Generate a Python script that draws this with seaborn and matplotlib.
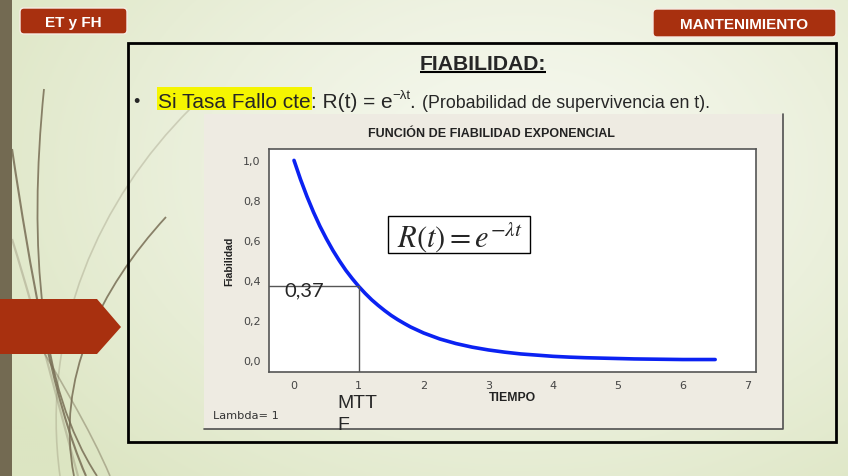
import numpy as np
import matplotlib
matplotlib.use("Agg")
import matplotlib.pyplot as plt
import seaborn as sns
from matplotlib.patches import Rectangle, Polygon, FancyBboxPatch, PathPatch
from matplotlib.path import Path

# Reliability R(t) for a constant failure rate (lambda = 1)
tiempo = [0.0, 0.1, 0.2, 0.3, 0.4, 0.5, 0.6, 0.7, 0.8, 0.9, 1.0,
          1.1, 1.2, 1.3, 1.4, 1.5, 1.6, 1.7, 1.8, 1.9, 2.0,
          2.25, 2.5, 2.75, 3.0, 3.25, 3.5, 3.75, 4.0, 4.25, 4.5, 4.75,
          5.0, 5.25, 5.5, 5.75, 6.0, 6.25, 6.5]
fiabilidad = [1.000, 0.905, 0.819, 0.741, 0.670, 0.607, 0.549, 0.497, 0.449, 0.407, 0.368,
              0.333, 0.301, 0.273, 0.247, 0.223, 0.202, 0.183, 0.165, 0.150, 0.135,
              0.105, 0.082, 0.064, 0.050, 0.039, 0.030, 0.024, 0.018, 0.014, 0.011, 0.009,
              0.007, 0.005, 0.004, 0.003, 0.002, 0.002, 0.002]
mttf = 1.0
r_mttf = 0.37
x_ticks = [0, 1, 2, 3, 4, 5, 6, 7]
y_ticks = [0.0, 0.2, 0.4, 0.6, 0.8, 1.0]
y_tick_labels = ["0,0", "0,2", "0,4", "0,6", "0,8", "1,0"]

sns.set_style("white")
plt.rcParams["font.family"] = ["DejaVu Sans"]
plt.rcParams["mathtext.fontset"] = "stix"

SANS = ["Liberation Sans"]
RED = "#a8300f"
W, H = 848, 477

fig = plt.figure(figsize=(W / 100, H / 100), dpi=100)
bg = fig.add_axes([0, 0, 1, 1])
bg.axis("off")

# slide background: soft cream-to-green gradient
yy, xx = np.mgrid[0:H:2, 0:W:2]
d = np.clip(np.hypot((xx - 520) / 620, (yy - 170) / 430), 0, 1)
c0 = np.array([246, 248, 239]) / 255
c1 = np.array([220, 229, 194]) / 255
bg.imshow(c0 + (c1 - c0) * d[..., None] ** 1.3, extent=(0, W, H, 0),
          aspect="auto", zorder=0)
bg.set_xlim(0, W)
bg.set_ylim(H, 0)

# decorative strokes on the left
strokes = [
    ([(44, 90), (28, 250), (40, 390), (97, 477)], 1.3, 0.85),
    ([(12, 150), (30, 270), (52, 400), (86, 477)], 1.5, 0.85),
    ([(166, 218), (100, 290), (55, 380), (74, 477)], 1.3, 0.85),
    ([(190, 110), (100, 200), (40, 330), (60, 477)], 1.2, 0.25),
    ([(12, 240), (40, 330), (62, 420), (78, 477)], 1.6, 0.3),
    ([(12, 300), (60, 380), (90, 430), (110, 477)], 1.2, 0.45),
]
for pts, lw, a in strokes:
    path = Path(pts, [Path.MOVETO, Path.CURVE4, Path.CURVE4, Path.CURVE4])
    bg.add_patch(PathPatch(path, fill=False, edgecolor="#776d54", lw=lw,
                           alpha=a, zorder=1))

bg.add_patch(Rectangle((0, 0), 12, H, facecolor="#736a52", edgecolor="none", zorder=2))
bg.add_patch(Polygon([(0, 300), (97, 300), (121, 328), (97, 355), (0, 355)],
                     closed=True, facecolor=RED, edgecolor="none", zorder=3))

# header tags
for (x0, y0, x1, y1), label in [((20, 9, 127, 35), "ET y FH"),
                                ((653, 10, 836, 38), "MANTENIMIENTO")]:
    bg.add_patch(FancyBboxPatch((x0, y0), x1 - x0, y1 - y0,
                                boxstyle="round,pad=0,rounding_size=4",
                                facecolor=RED, edgecolor="#f6ece4", lw=1, zorder=3))
    bg.text((x0 + x1) / 2, (y0 + y1) / 2 + 1, label, ha="center", va="center",
            color="white", fontsize=11, fontweight="bold",
            family=SANS, zorder=4)

# content frame
bg.add_patch(Rectangle((128, 44), 708, 399, fill=False, edgecolor="black",
                       lw=2, zorder=3))

# slide heading
renderer = fig.canvas.get_renderer()
ttl = bg.text(483, 70, "FIABILIDAD:", ha="center", va="baseline", fontsize=15.2,
              fontweight="bold", family=SANS, zorder=4)
bb = ttl.get_window_extent(renderer)
bg.plot([bb.x0, bb.x1], [73, 73], color="black", lw=1.5, zorder=4,
        solid_capstyle="butt")

# bullet line built piece by piece
bg.text(133, 107, "\u2022", fontsize=13, va="baseline", family=SANS, zorder=4)


def put(x, y, s, size, **kw):
    t = bg.text(x, y, s, fontsize=size, va="baseline", family=SANS, zorder=5, **kw)
    return t, t.get_window_extent(renderer)


hl, bbh = put(158, 108, "Si Tasa Fallo cte", 15)
bg.add_patch(Rectangle((bbh.x0 - 1, 88), bbh.x1 - bbh.x0 + 2, 23,
                       facecolor="#f5f500", edgecolor="none", zorder=4))
_, b = put(bbh.x1, 108, ": R(t) = e", 15)
_, b = put(b.x1, 99, "\u2212\u03bbt", 9.5)
_, b = put(b.x1, 108, ". ", 15)
put(b.x1, 108, "(Probabilidad de supervivencia en t).", 12.8)

# chart panel
bg.add_patch(Rectangle((204, 115), 579, 315, facecolor="#eeebe2",
                       edgecolor="none", zorder=3))
bg.plot([783, 783, 204], [115, 430, 430], color="#505050", lw=1.2, zorder=4)
bg.text(491, 134, "FUNCIÓN DE FIABILIDAD EXPONENCIAL", ha="center", va="center",
        fontsize=9, fontweight="bold", family=SANS, color="#222222", zorder=4)
bg.text(213, 416, "Lambda= 1", ha="left", va="center", fontsize=8.2,
        color="#333333", zorder=4)

# plot area
ax = fig.add_axes([269 / W, 1 - 372.7 / H, (756 - 269) / W, (372.7 - 150) / H])
ax.set_zorder(5)
ax.set_facecolor("white")
sns.lineplot(x=tiempo, y=fiabilidad, ax=ax, color="#0b22f2", linewidth=2.6)
ax.set_xlim(-0.386, 7.13)
ax.set_ylim(-0.059, 1.057)
x_lo, y_lo = ax.get_xlim()[0], ax.get_ylim()[0]
ax.plot([x_lo, mttf], [r_mttf, r_mttf], color="#555555", lw=1)
ax.plot([mttf, mttf], [y_lo, r_mttf], color="#555555", lw=1)

ax.set_xticks(x_ticks)
ax.set_xticklabels([str(v) for v in x_ticks])
ax.set_yticks(y_ticks)
ax.set_yticklabels(y_tick_labels)
ax.tick_params(axis="both", direction="out", length=4, width=1, color="#666666",
               labelsize=8, labelcolor="#444444", pad=2)
for s in ax.spines.values():
    s.set_color("#555555")
    s.set_linewidth(1.2)
ax.set_xlabel("TIEMPO", fontsize=8.8, fontweight="bold", family=SANS, color="#222222")
ax.xaxis.set_label_coords(0.499, -0.085)
ax.set_ylabel("Fiabilidad", fontsize=7.6, fontweight="bold", family=SANS,
              color="#222222")
ax.yaxis.set_label_coords(-0.072, 0.5)

# formula box and annotations drawn above the chart
fb = fig.add_axes([0, 0, 1, 1])
fb.axis("off")
fb.set_zorder(6)
fb.set_xlim(0, W)
fb.set_ylim(H, 0)
fb.add_patch(Rectangle((388, 217), 142, 37, facecolor="white", edgecolor="black", lw=1))
fb.text(460, 237, r"$R(t) = e^{-\lambda t}$", ha="center", va="center", fontsize=22)

fb.text(284, 291, "0,37", ha="left", va="center", fontsize=14.5, family=["Lato"])
fb.text(337, 395, "MTT\nF", ha="left", va="top", fontsize=14, family=SANS,
        linespacing=1.42)

fig.savefig("out.png", dpi=100)
